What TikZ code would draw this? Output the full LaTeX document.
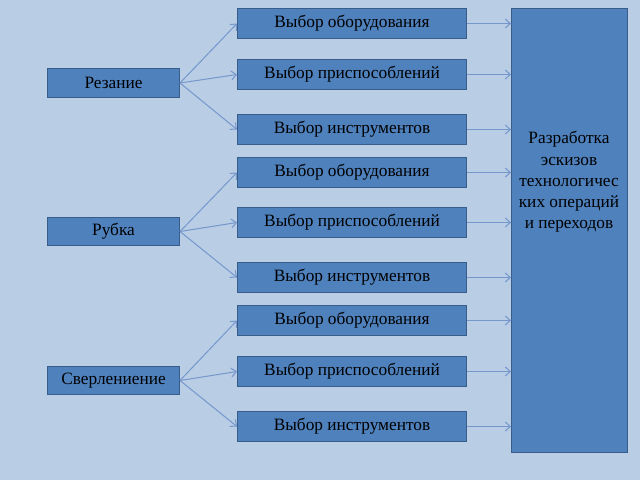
\documentclass[tikz,border=0pt]{standalone}
\usepackage{fontspec}
\setmainfont{Liberation Serif}
\usetikzlibrary{arrows.meta}
\definecolor{bg}{HTML}{B9CDE5}
\definecolor{boxfill}{HTML}{4F81BD}
\definecolor{boxline}{HTML}{385D8A}
\definecolor{arr}{HTML}{7597CC}
\tikzset{
  bx/.style={draw=boxline, line width=1pt, fill=boxfill, inner sep=0pt, anchor=north west, font=\fontsize{17.3}{20}\selectfont},
  con/.style={draw=arr, line width=1pt, -{Straight Barb[length=5pt,width=9pt]}}
}
\begin{document}
\begin{tikzpicture}[x=1pt,y=-1pt]
\fill[bg] (0,0) rectangle (640,480);
\useasboundingbox (0,0) rectangle (640,480);
% big box
\node[bx, minimum width=116pt, minimum height=444pt] (big) at (511,8) {};
\node[align=center, font=\fontsize{17.3}{21.3}\selectfont, inner sep=0pt] (bigt) at (569,182) {Разработка\\эскизов\\технологичес\\ких операций\\и переходов};
% left boxes
\node[bx, minimum width=132pt, minimum height=29pt] (l1) at (47,68) {Резание};
\node[bx, minimum width=132pt, minimum height=28pt] (l2) at (47,217) {Рубка};
\node[bx, minimum width=132pt, minimum height=28pt] (l3) at (47,366) {Сверлениение};
% middle boxes
\foreach \i/\y/\t in {1/8/Выбор оборудования, 2/59/Выбор приспособлений, 3/114/Выбор инструментов,
  4/157/Выбор оборудования, 5/207/Выбор приспособлений, 6/262/Выбор инструментов,
  7/305/Выбор оборудования, 8/356/Выбор приспособлений, 9/411/Выбор инструментов}
  {\node[bx, minimum width=229pt, minimum height=30pt] (m\i) at (237,\y) {\t};}
% connectors
\foreach \i in {1,2,3} {\draw[con] (l1.east) -- (m\i.west);}
\foreach \i in {4,5,6} {\draw[con] (l2.east) -- (m\i.west);}
\foreach \i in {7,8,9} {\draw[con] (l3.east) -- (m\i.west);}
\foreach \i in {1,...,9} {\draw[con] (m\i.east) -- (m\i.east -| big.west);}
\end{tikzpicture}
\end{document}
